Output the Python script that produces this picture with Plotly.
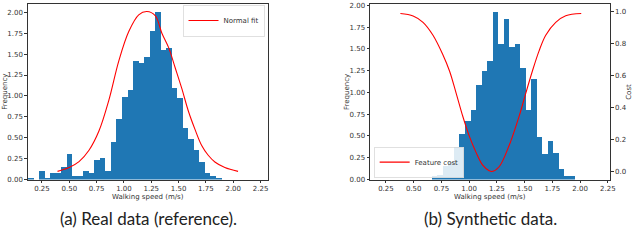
import plotly.graph_objects as go

# ---------------- data ----------------
# (a) real data histogram (density), uniform bins
real_bin_start = 0.12
real_bin_width = 0.0506
real_freq = [0.02, 0.0, 0.105, 0.02, 0.078, 0.078, 0.156, 0.30, 0.047, 0.047,
             0.105, 0.078, 0.233, 0.26, 0.10, 0.455, 0.73, 0.99, 1.07, 1.42,
             1.39, 1.47, 1.78, 2.00, 1.55, 1.57, 1.09, 0.98, 0.62, 0.48,
             0.35, 0.21, 0.08, 0.047, 0.01]

# normal fit curve
fit_x = [0.392, 0.498, 0.589, 0.68, 0.771, 0.862, 0.953, 1.044, 1.135, 1.21, 1.286,
         1.347, 1.408, 1.468, 1.529, 1.589, 1.65, 1.71, 1.771, 1.832, 1.923, 2.044]
fit_y = [0.097, 0.144, 0.214, 0.35, 0.58, 0.95, 1.42, 1.77, 1.97, 2.01, 1.96,
         1.75, 1.58, 1.34, 1.09, 0.82, 0.60, 0.41, 0.29, 0.21, 0.144, 0.097]

# (b) synthetic data histogram
syn_bin_start = 0.665
syn_bin_width = 0.0497
syn_freq = [0.04, 0.05, 0.16, 0.20, 0.37, 0.52, 0.67, 0.80, 1.09, 1.25, 1.36, 1.92,
            1.56, 1.84, 1.52, 1.56, 1.28, 0.80, 1.16, 0.49, 0.29, 0.44, 0.31, 0.12,
            0.04, 0.04]

# feature cost curve
cost_x = [0.38, 0.495, 0.584, 0.674, 0.763, 0.823, 0.883, 0.943, 1.002, 1.062, 1.122,
          1.18, 1.205, 1.27, 1.36, 1.45, 1.51, 1.57, 1.63, 1.69, 1.78, 1.87, 2.01]
cost_y = [0.99, 0.975, 0.935, 0.854, 0.732, 0.63, 0.49, 0.345, 0.22, 0.12, 0.04,
          0.005, 0.0, 0.03, 0.163, 0.346, 0.49, 0.63, 0.756, 0.854, 0.935, 0.976, 0.99]

freq_ticks = [0.0, 0.25, 0.5, 0.75, 1.0, 1.25, 1.5, 1.75, 2.0]
speed_ticks = [0.25, 0.5, 0.75, 1.0, 1.25, 1.5, 1.75, 2.0, 2.25]
cost_ticks = [0.0, 0.2, 0.4, 0.6, 0.8, 1.0]

xlabel = "Walking speed (m/s)"
ylabel = "Frequency"
cost_label = "Cost"
caption_a = "(a) Real data (reference)."
caption_b = "(b) Synthetic data."

# ---------------- figure ----------------
W, H = 640, 243
BLUE = "#1f77b4"
AX = "#333333"
TICKFONT = dict(family="DejaVu Sans", size=7, color="#333333")

def px(x):
    return x / W

def py(y):
    return (H - y) / H

real_centers = [real_bin_start + real_bin_width * (i + 0.5) for i in range(len(real_freq))]
syn_centers = [syn_bin_start + syn_bin_width * (i + 0.5) for i in range(len(syn_freq))]

fig = go.Figure()

fig.add_trace(go.Bar(x=real_centers, y=real_freq, width=real_bin_width,
                     marker=dict(color=BLUE, line=dict(width=0)),
                     showlegend=False, xaxis="x", yaxis="y"))
fig.add_trace(go.Scatter(x=fit_x, y=fit_y, mode="lines", name="Normal fit",
                         line=dict(color="red", width=1.1, shape="spline"),
                         xaxis="x", yaxis="y", legend="legend"))

fig.add_trace(go.Bar(x=syn_centers, y=syn_freq, width=syn_bin_width,
                     marker=dict(color=BLUE, line=dict(width=0)),
                     showlegend=False, xaxis="x2", yaxis="y2"))
fig.add_trace(go.Scatter(x=cost_x, y=cost_y, mode="lines", name="Feature cost",
                         line=dict(color="red", width=1.1, shape="spline"),
                         xaxis="x2", yaxis="y3", legend="legend2"))

ydom = [py(182), py(2)]
common_axis = dict(showgrid=False, zeroline=False, showline=True, linecolor=AX,
                   linewidth=1, ticks="outside", ticklen=2.5, tickwidth=0.8,
                   tickcolor=AX, tickfont=TICKFONT, ticklabeloverflow="allow")

fig.update_layout(
    width=W, height=H,
    margin=dict(l=0, r=0, t=0, b=0),
    paper_bgcolor="white", plot_bgcolor="white",
    barmode="overlay", bargap=0,
    xaxis=dict(domain=[px(28), px(270)], range=[0.12, 2.317], anchor="y",
               tickvals=speed_ticks, tickformat=".2f", mirror=True, **common_axis),
    yaxis=dict(domain=ydom, range=[0, 2.1], anchor="x",
               tickvals=freq_ticks, tickformat=".2f", mirror=True, **common_axis),
    xaxis2=dict(domain=[px(373), px(615)], range=[0.107, 2.271], anchor="y2",
                tickvals=speed_ticks, tickformat=".2f", mirror=True, **common_axis),
    yaxis2=dict(domain=ydom, range=[0, 2.016], anchor="x2",
                tickvals=freq_ticks, tickformat=".2f", mirror=False, **common_axis),
    yaxis3=dict(range=[-0.05, 1.05], overlaying="y2", anchor="x2", side="right",
                tickvals=cost_ticks, tickformat=".1f", **common_axis),
    legend=dict(x=px(267), y=py(3.5), xanchor="right", yanchor="top",
                bgcolor="rgba(255,255,255,0.85)", bordercolor="#cccccc", borderwidth=0.6,
                font=dict(family="DejaVu Sans", size=7, color="#333333"),
                itemwidth=30, tracegroupgap=0),
    legend2=dict(x=px(377), y=py(180.5), xanchor="left", yanchor="bottom",
                 bgcolor="rgba(255,255,255,0.85)", bordercolor="#cccccc", borderwidth=0.6,
                 font=dict(family="DejaVu Sans", size=7, color="#333333"),
                 itemwidth=30, tracegroupgap=0),
)

ann_font = dict(family="DejaVu Sans", size=7, color="#333333")
annotations = [
    dict(text=xlabel, x=px(149), y=py(200), xref="paper", yref="paper",
         showarrow=False, font=ann_font, xanchor="center", yanchor="middle", borderpad=0),
    dict(text=xlabel, x=px(494), y=py(200), xref="paper", yref="paper",
         showarrow=False, font=ann_font, xanchor="center", yanchor="middle", borderpad=0),
    dict(text=ylabel, x=px(5), y=py(92), xref="paper", yref="paper", textangle=-90,
         showarrow=False, font=ann_font, xanchor="center", yanchor="middle"),
    dict(text=ylabel, x=px(349), y=py(92), xref="paper", yref="paper", textangle=-90,
         showarrow=False, font=ann_font, xanchor="center", yanchor="middle"),
    dict(text=cost_label, x=px(634), y=py(92), xref="paper", yref="paper", textangle=-90,
         showarrow=False, font=ann_font, xanchor="center", yanchor="middle"),
    dict(text=caption_a, x=px(150), y=py(222), xref="paper", yref="paper",
         showarrow=False, font=dict(family="Lato", size=17, color="#222222"),
         xanchor="center", yanchor="middle"),
    dict(text=caption_b, x=px(494), y=py(222), xref="paper", yref="paper",
         showarrow=False, font=dict(family="Lato", size=17, color="#222222"),
         xanchor="center", yanchor="middle"),
]
fig.update_layout(annotations=annotations)

fig.write_html("out.html",
               config={"displayModeBar": False},
               post_script="document.body.style.margin='0';document.body.style.overflow='hidden';")
